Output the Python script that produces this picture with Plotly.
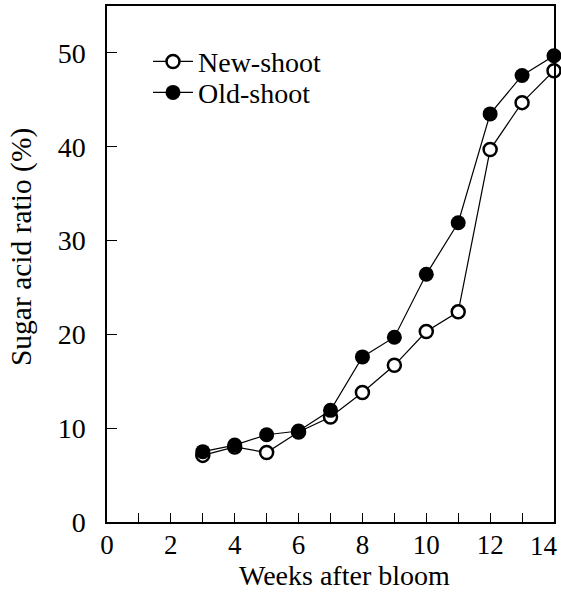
import plotly.graph_objects as go

weeks = [3, 4, 5, 6, 7, 8, 9, 10, 11, 12, 13, 14]
new_shoot = [7.1, 8.0, 7.4, 9.6, 11.2, 13.8, 16.7, 20.3, 22.4, 39.7, 44.7, 48.1]
old_shoot = [7.5, 8.2, 9.3, 9.7, 11.9, 17.6, 19.7, 26.4, 31.9, 43.5, 47.6, 49.7]

x_tick_vals = [0, 2, 4, 6, 8, 10, 12]
x_tick_text = ["0", "2", "4", "6", "8", "10", "12"]
x_last_tick = 14
x_last_text = "14"
y_tick_vals = [0, 10, 20, 30, 40, 50]

x_title = "Weeks after bloom"
y_title = "Sugar acid ratio (%)"

FONT = "Liberation Serif"

fig = go.Figure()
fig.add_trace(go.Scatter(
    x=weeks, y=new_shoot, name="New-shoot", mode="lines+markers",
    line=dict(color="black", width=1.2),
    marker=dict(symbol="circle", size=13, color="white",
                line=dict(color="black", width=2.5)),
    cliponaxis=False, legend="legend",
))
fig.add_trace(go.Scatter(
    x=weeks, y=old_shoot, name="Old-shoot", mode="lines+markers",
    line=dict(color="black", width=1.2),
    marker=dict(symbol="circle", size=15, color="black",
                line=dict(color="black", width=0)),
    cliponaxis=False, legend="legend2",
))

leg_common = dict(xanchor="left", yanchor="middle", bgcolor="rgba(0,0,0,0)",
                  borderwidth=0, font=dict(family=FONT, size=28, color="black"),
                  itemwidth=40, itemsizing="trace")

fig.update_layout(
    width=561, height=593,
    margin=dict(l=107, r=7, t=6, b=71, autoexpand=False),
    paper_bgcolor="white", plot_bgcolor="white",
    font=dict(family=FONT, color="black", size=24),
    showlegend=True,
    legend=dict(x=0.0917, y=0.892, **leg_common),
    legend2=dict(x=0.0917, y=0.832, **leg_common),
    xaxis=dict(
        range=[0, 14], tickmode="array", tickvals=x_tick_vals, ticktext=x_tick_text,
        ticks="inside", ticklen=9, tickwidth=1.2, tickcolor="black",
        minor=dict(ticks="inside", dtick=1, tick0=0, ticklen=9, tickwidth=1.2, tickcolor="black"),
        showline=True, linecolor="black", linewidth=1.5, mirror=True,
        showgrid=False, zeroline=False, automargin=False,
        tickfont=dict(family=FONT, size=27),
        ticklabelstandoff=-2,
    ),
    yaxis=dict(
        range=[0, 55], tickmode="array", tickvals=y_tick_vals,
        ticks="inside", ticklen=10, tickwidth=1.2, tickcolor="black",
        showline=True, linecolor="black", linewidth=1.5, mirror=True,
        showgrid=False, zeroline=False, automargin=False,
        tickfont=dict(family=FONT, size=28),
        ticklabelstandoff=14,
    ),
    annotations=[
        dict(text=x_last_text, xref="x", yref="paper", x=x_last_tick, y=-0.046,
             xanchor="right", yanchor="middle", xshift=6, showarrow=False,
             font=dict(family=FONT, size=27, color="black")),
        dict(text=x_title, xref="paper", yref="paper", x=0.532, y=-0.1376,
             xanchor="center", yanchor="bottom", showarrow=False,
             font=dict(family=FONT, size=28, color="black")),
        dict(text=y_title, xref="paper", yref="paper", x=-0.19, y=0.533,
             xanchor="center", yanchor="middle", showarrow=False, textangle=-90,
             font=dict(family=FONT, size=29.5, color="black")),
    ],
)

fig.write_html("out.html", config={"displayModeBar": False},
               post_script="document.body.style.margin='0';document.body.style.overflow='hidden';")
